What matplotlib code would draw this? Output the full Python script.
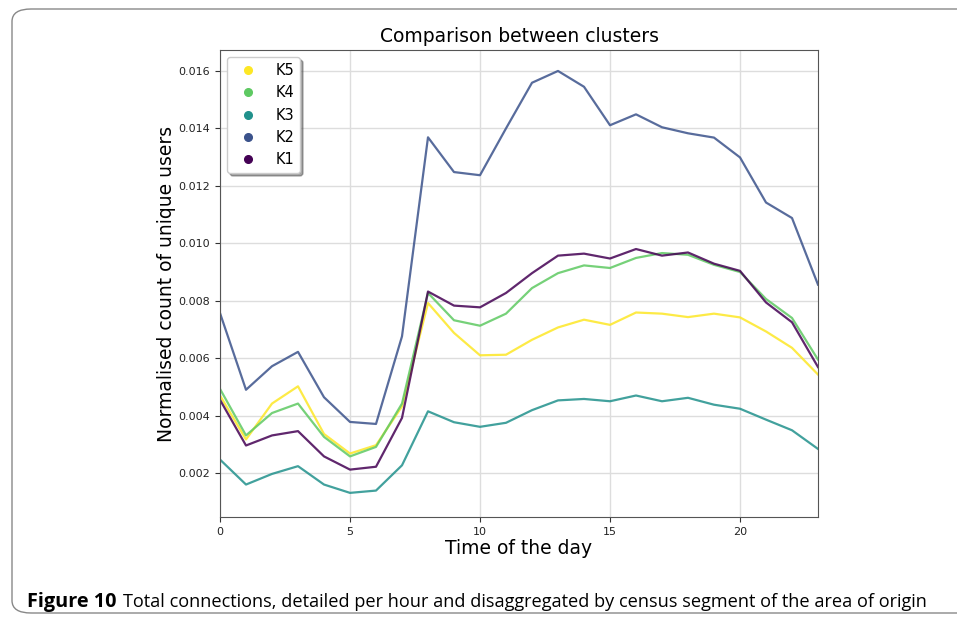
import matplotlib
matplotlib.use("Agg")
import matplotlib.pyplot as plt
from matplotlib.lines import Line2D
from matplotlib.patches import FancyBboxPatch
import numpy as np

HOURS = list(range(24))

K1 = [0.00455, 0.00296, 0.00331, 0.00346, 0.00258, 0.00212, 0.00222, 0.00392,
      0.00832, 0.00783, 0.00777, 0.00827, 0.00896, 0.00957, 0.00964, 0.00947,
      0.00980, 0.00957, 0.00968, 0.00929, 0.00904, 0.00794, 0.00725, 0.00569]
K2 = [0.00757, 0.00490, 0.00572, 0.00622, 0.00464, 0.00378, 0.00371, 0.00676,
      0.01369, 0.01248, 0.01237, 0.01400, 0.01559, 0.01600, 0.01545, 0.01411,
      0.01449, 0.01404, 0.01383, 0.01368, 0.01299, 0.01142, 0.01088, 0.00856]
K3 = [0.00247, 0.00160, 0.00197, 0.00224, 0.00160, 0.00131, 0.00139, 0.00227,
      0.00415, 0.00377, 0.00361, 0.00375, 0.00419, 0.00453, 0.00458, 0.00450,
      0.00470, 0.00450, 0.00462, 0.00438, 0.00424, 0.00386, 0.00349, 0.00284]
K4 = [0.00493, 0.00331, 0.00409, 0.00442, 0.00326, 0.00258, 0.00291, 0.00442,
      0.00827, 0.00732, 0.00713, 0.00755, 0.00844, 0.00896, 0.00923, 0.00914,
      0.00949, 0.00966, 0.00960, 0.00925, 0.00900, 0.00806, 0.00740, 0.00595]
K5 = [0.00470, 0.00317, 0.00442, 0.00502, 0.00336, 0.00268, 0.00297, 0.00432,
      0.00792, 0.00688, 0.00610, 0.00612, 0.00664, 0.00707, 0.00734, 0.00716,
      0.00759, 0.00755, 0.00743, 0.00755, 0.00742, 0.00693, 0.00636, 0.00543]

CLUSTERS = ["K5", "K4", "K3", "K2", "K1"]
SERIES = {"K1": K1, "K2": K2, "K3": K3, "K4": K4, "K5": K5}
COLORS = {"K5": "#fde725", "K4": "#5ec962", "K3": "#21918c",
          "K2": "#3b528b", "K1": "#440154"}

fig = plt.figure(figsize=(9.57, 6.23), dpi=100)
W, H = 957, 623

# rounded frame around the figure panel
frame = FancyBboxPatch((12 / W, 10 / H), 1.05, (604 / H), boxstyle="round,pad=0,rounding_size=0.02",
                       transform=fig.transFigure, facecolor="none", edgecolor="#888888",
                       linewidth=1.0, zorder=-1)
fig.patches.append(frame)

ax = fig.add_axes([220 / W, 1 - 517 / H, 598 / W, 467 / H])

for name in ["K2", "K3", "K5", "K4", "K1"]:
    ax.plot(HOURS, SERIES[name], color=COLORS[name], linewidth=1.6, alpha=0.85)

ax.set_xlim(0, 23)
ax.set_ylim(0.00047, 0.01673)
ax.set_xticks([0, 5, 10, 15, 20])
yt = np.arange(0.002, 0.0161, 0.002)
ax.set_yticks(yt)
ax.set_yticklabels([f"{v:.3f}" for v in yt])
ax.tick_params(labelsize=8, color="#333333", labelcolor="#222222")
ax.grid(True, color="#dddddd", linewidth=1.0)
ax.set_axisbelow(True)
for sp in ax.spines.values():
    sp.set_color("#555555")

ax.set_title("Comparison between clusters", fontsize=13.5, pad=6)
ax.set_xlabel("Time of the day", fontsize=13.5, labelpad=1.5)
ax.set_ylabel("Normalised count of unique users", fontsize=13.5, labelpad=2)

handles = [Line2D([], [], linestyle="none", marker="o", markersize=5.5,
                  color=COLORS[n]) for n in CLUSTERS]
ax.legend(handles, CLUSTERS, loc="upper left", fontsize=10.5, shadow=True,
          framealpha=1, edgecolor="#cccccc", fancybox=True,
          borderaxespad=0.5, handletextpad=0.9, labelspacing=0.5)

fig.text(27 / W, 1 - 602 / H, "Figure 10", fontsize=14.3, fontweight="bold",
         family="Open Sans", va="center", ha="left")
fig.text(123 / W, 1 - 602 / H,
         "Total connections, detailed per hour and disaggregated by census segment of the area of origin",
         fontsize=13.05, family="Open Sans", va="center", ha="left")

fig.savefig("out.png", dpi=100)
